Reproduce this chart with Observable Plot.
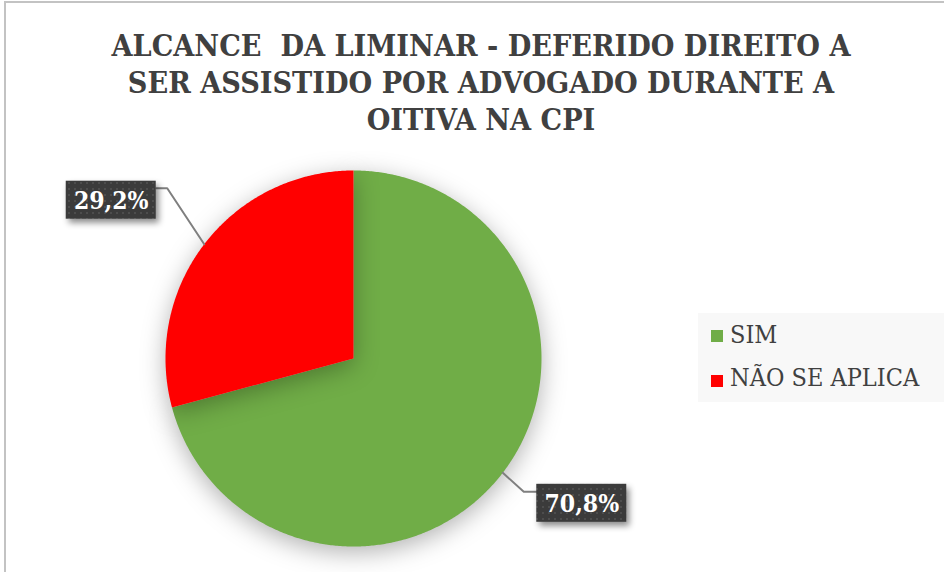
<!DOCTYPE html>
<html>
<head>
<meta charset="utf-8">
<script src="https://cdn.jsdelivr.net/npm/d3@7"></script>
<script src="https://cdn.jsdelivr.net/npm/@observablehq/plot@0.6"></script>
<style>
  html, body { margin: 0; padding: 0; background: #fff; }
  #wrap { position: relative; width: 944px; height: 572px; overflow: hidden; background: #fff; }
  #frame { position: absolute; left: 4px; top: 1px; width: 1000px; height: 700px; border-left: 2px solid #c3c3c3; border-top: 2px solid #c3c3c3; box-sizing: border-box; }
  #title { position: absolute; left: 0; top: 27px; width: 962px; text-align: center; font-family: "DejaVu Serif Condensed", "DejaVu Serif", serif; font-stretch: condensed; font-weight: bold; font-size: 30.2px; line-height: 37px; color: #404040; white-space: pre; }
  #chart { position: absolute; left: 0; top: 0; }
  #legend { position: absolute; left: 698px; top: 313px; width: 250px; height: 89px; background: #f8f8f8; }
  .li { position: absolute; left: 32px; font-family: "DejaVu Serif Condensed", "DejaVu Serif", serif; font-stretch: condensed; font-size: 25px; line-height: 25px; color: #404040; white-space: nowrap; }
  .sw { position: absolute; left: 13px; width: 12px; height: 12px; }
</style>
</head>
<body>
<div id="wrap">
  <div id="frame"></div>
  <div id="chart"></div>
  <div id="title"></div>
  <div id="legend"></div>
</div>
<script>
// ---- data ----
const titleLines = ["ALCANCE  DA LIMINAR - DEFERIDO DIREITO A", "SER ASSISTIDO POR ADVOGADO DURANTE A", "OITIVA NA CPI"];
const categories = ["SIM", "NÃO SE APLICA"];
const values = [70.8, 29.2];
const valueLabels = ["70,8%", "29,2%"];
const colors = ["#70AD47", "#FF0000"];

// ---- layout ----
const W = 944, H = 572;
const cx = 353, cy = 358, R = 188;
const leaderLayout = [
  {dx: 21, dy: 19, side: 1, gap: 13, boxDy: 11.5},
  {dx: -37, dy: -56, side: -1, gap: 11, boxDy: 12}
];
const boxW = 90, boxH = 38;

const total = d3.sum(values);
const slicePts = [];
const leaderPts = [];
const boxes = [];
let acc = 0;
categories.forEach((cat, i) => {
  const a0 = acc / total * 2 * Math.PI;
  acc += values[i];
  const a1 = acc / total * 2 * Math.PI;
  const pt = a => [cx + R * Math.sin(a), cy - R * Math.cos(a)];
  slicePts.push({cat, x: cx, y: cy});
  const n = Math.max(2, Math.ceil((a1 - a0) / (Math.PI / 360)));
  for (let k = 0; k <= n; ++k) {
    const [x, y] = pt(a0 + (a1 - a0) * k / n);
    slicePts.push({cat, x, y});
  }
  slicePts.push({cat, x: cx, y: cy});
  const am = (a0 + a1) / 2;
  const [ex, ey] = pt(am);
  const L = leaderLayout[i];
  const elx = ex + L.dx, ely = ey + L.dy;
  const bx = elx + L.side * L.gap;
  leaderPts.push({cat, x: ex, y: ey}, {cat, x: elx, y: ely}, {cat, x: bx, y: ely});
  const bcx = bx + L.side * boxW / 2;
  const bcy = ely + L.boxDy;
  boxes.push({cat, label: valueLabels[i], x1: bcx - boxW / 2, x2: bcx + boxW / 2, y1: bcy - boxH / 2, y2: bcy + boxH / 2, cx: bcx, cy: bcy});
});

const chart = Plot.plot({
  width: W,
  height: H,
  margin: 0,
  x: {domain: [0, W], range: [0, W], axis: null},
  y: {domain: [0, H], range: [0, H], axis: null},
  color: {domain: categories, range: colors},
  style: {background: "transparent", overflow: "visible"},
  marks: [
    Plot.line(slicePts, {x: "x", y: "y", z: "cat", fill: "cat", stroke: "none", className: "slices", curve: "linear"}),
    Plot.line(leaderPts, {x: "x", y: "y", z: "cat", stroke: "#7f7f7f", strokeWidth: 2}),
    Plot.rect(boxes, {x1: "x1", x2: "x2", y1: "y1", y2: "y2", fill: "#3d3d3d", className: "lbox"}),
    Plot.text(boxes, {x: "cx", y: "cy", text: "label", fill: "white", fontSize: 24.5, fontWeight: "bold", fontFamily: "DejaVu Serif Condensed, DejaVu Serif, serif", dy: 1, className: "ltext"})
  ]
});
document.getElementById("chart").appendChild(chart);

const svg = d3.select(chart);
svg.selectAll("g.ltext").style("font-stretch", "condensed");
const defs = svg.insert("defs", ":first-child");
const pat = defs.append("pattern").attr("id", "dots").attr("width", 6).attr("height", 6).attr("patternUnits", "userSpaceOnUse");
pat.append("rect").attr("width", 6).attr("height", 6).attr("fill", "#3b3b3b");
pat.append("circle").attr("cx", 3).attr("cy", 3).attr("r", 0.9).attr("fill", "#555");
svg.selectAll("g.lbox rect").attr("fill", "url(#dots)").style("filter", "drop-shadow(3px 4px 3px rgba(0,0,0,0.45))");
svg.selectAll("g.slices path").style("filter", "drop-shadow(0px 6px 12px rgba(0,0,0,0.3))");

document.getElementById("title").textContent = titleLines.join("\n");

const leg = document.getElementById("legend");
categories.forEach((c, i) => {
  const sw = document.createElement("div");
  sw.className = "sw";
  sw.style.top = (17 + i * 45) + "px";
  sw.style.background = colors[i];
  leg.appendChild(sw);
  const t = document.createElement("div");
  t.className = "li";
  t.style.top = (9 + i * 43) + "px";
  t.textContent = c;
  leg.appendChild(t);
});
</script>
</body>
</html>
